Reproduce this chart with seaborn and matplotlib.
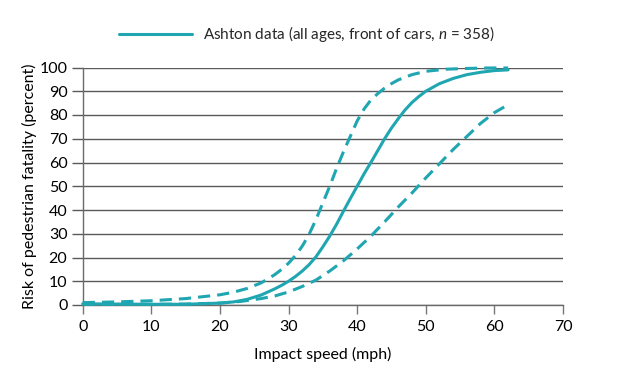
import matplotlib
matplotlib.use("Agg")
import matplotlib.pyplot as plt
import seaborn as sns

# Data (impact speed in mph, risk in percent)
speed_mid = [0, 5, 10, 15, 20, 22, 24, 26, 28, 29, 30, 31, 32, 33, 34, 35, 36, 37, 38, 39, 40, 41, 42, 43, 44,
             45, 46, 47, 48, 49, 50, 52, 54, 56, 58, 60, 62]
risk_mid = [0.5, 0.4, 0.3, 0.3, 0.8, 1.3, 2.4, 4.2, 6.8, 8.3, 10, 12, 14.3, 17, 20.3, 24.5, 29, 34, 39.5, 44.8,
            50, 55.2, 60, 65, 70, 74.5, 78.5, 82.2, 85.3, 87.8, 90, 93.2, 95.4, 97, 98, 98.7, 99]

speed_upper = [0, 5, 10, 15, 20, 22, 24, 26, 27, 28, 29, 30, 31, 32, 33, 34, 35, 36, 37, 38, 39, 40, 41, 42, 43,
               44, 45, 46, 48, 50, 53, 56, 59, 62]
risk_upper = [1.0, 1.3, 1.8, 2.7, 4.3, 5.4, 7, 9.3, 11, 12.8, 15, 17.6, 20.8, 24.8, 29.8, 36, 43, 50, 57.5, 64.5,
              71, 77.5, 82.5, 86.3, 89, 91.3, 93.2, 94.8, 97, 98.4, 99.3, 99.6, 99.8, 99.8]

speed_lower = [0, 5, 10, 15, 20, 23, 26, 28, 30, 32, 34, 36, 38, 40, 42, 44, 46, 48, 50, 52, 54, 56, 58, 60, 61.8]
risk_lower = [0.3, 0.3, 0.3, 0.4, 0.8, 1.5, 2.7, 3.8, 5.5, 7.8, 10.5, 14.3, 18.6, 23.6, 29, 35, 41.3, 47.2,
              53.5, 59.5, 65.5, 71, 76.5, 81, 84]

x_ticks = [0, 10, 20, 30, 40, 50, 60, 70]
y_ticks = [0, 10, 20, 30, 40, 50, 60, 70, 80, 90, 100]

legend_label = "Ashton data (all ages, front of cars, $n$ = 358)"
x_label = "Impact speed (mph)"
y_label = "Risk of pedestrian fatality (percent)"

TEAL = "#1FA6B1"
GRID = "#5a5a5a"
FONT = "Lato"
FS = 11.5

sns.set_theme(style="white")
plt.rcParams["font.family"] = [FONT, "DejaVu Sans"]
plt.rcParams["mathtext.fontset"] = "custom"
plt.rcParams["mathtext.it"] = FONT + ":italic"
plt.rcParams["mathtext.rm"] = FONT

fig = plt.figure(figsize=(6.2, 3.75), dpi=100)
ax = fig.add_axes([82.7 / 620, 1 - 305 / 375, (563 - 82.7) / 620, (305 - 67.5) / 375])

lw = 2.2
sns.lineplot(x=speed_mid, y=risk_mid, ax=ax, color=TEAL, linewidth=lw,
             label=legend_label, sort=False)
sns.lineplot(x=speed_upper, y=risk_upper, ax=ax, color=TEAL, linewidth=lw,
             sort=False, legend=False)
sns.lineplot(x=speed_lower, y=risk_lower, ax=ax, color=TEAL, linewidth=lw,
             sort=False, legend=False)
lines = ax.get_lines()
for ln in lines[1:]:
    ln.set_dashes([4.0, 2.3])
for ln in lines:
    ln.set_clip_on(False)
    ln.set_zorder(3)

ax.set_xlim(0, 70)
ax.set_ylim(0, 100)
ax.set_xticks(x_ticks)
ax.set_yticks(y_ticks)
ax.yaxis.grid(True, color=GRID, linewidth=1.0)
ax.xaxis.grid(False)
ax.set_axisbelow(True)

for side in ["top", "right"]:
    ax.spines[side].set_visible(False)
for side in ["left", "bottom"]:
    ax.spines[side].set_color("#6a6a6a")
    ax.spines[side].set_linewidth(1.0)

ax.tick_params(axis="y", which="both", left=True, length=8, width=1.0, color=GRID,
               pad=3, labelsize=FS, labelcolor="black")
ax.tick_params(axis="x", which="both", bottom=True, length=6.5, width=1.0, color="#777777",
               pad=4.5, labelsize=FS, labelcolor="black")

ax.set_xlabel(x_label, fontsize=FS, color="black", labelpad=9)
ax.set_ylabel(y_label, fontsize=FS, color="black", labelpad=2)

ax.get_legend().remove()
handles, labels = ax.get_legend_handles_labels()
fig.legend(handles[:1], labels[:1], loc="center", bbox_to_anchor=(0.495, 1 - 34 / 375),
           frameon=False, fontsize=11, handlelength=4.8, handletextpad=0.75)

fig.savefig("out.png", dpi=100)
